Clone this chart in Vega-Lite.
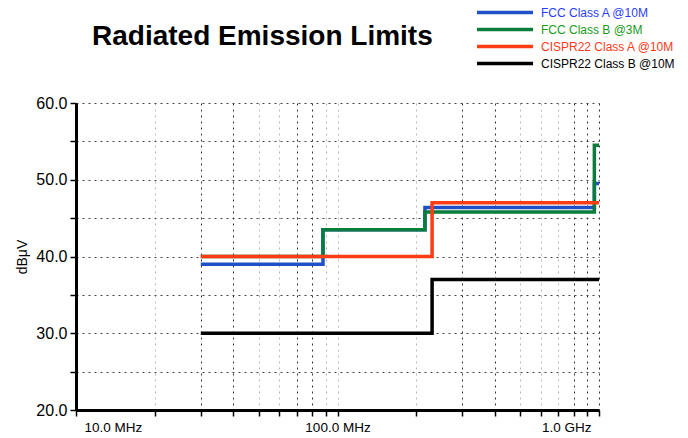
{
  "$schema": "https://vega.github.io/schema/vega-lite/v6.json",
  "autosize": "none",
  "width": 523,
  "height": 307,
  "padding": {"left": 76, "top": 103, "right": 89, "bottom": 28},
  "background": "white",
  "title": {
    "text": "Radiated Emission Limits",
    "anchor": "start",
    "frame": "group",
    "dx": 16,
    "offset": -69,
    "font": "Liberation Sans",
    "fontSize": 28,
    "fontWeight": "bold",
    "color": "black",
    "baseline": "alphabetic"
  },
  "data": {
    "values": [
      {"series": "FCC Class A @10M", "freq": 30, "level": 39},
      {"series": "FCC Class A @10M", "freq": 88, "level": 43.5},
      {"series": "FCC Class A @10M", "freq": 216, "level": 46.4},
      {"series": "FCC Class A @10M", "freq": 960, "level": 49.5},
      {"series": "FCC Class A @10M", "freq": 1000, "level": 49.5},
      {"series": "FCC Class B @3M", "freq": 30, "level": 40},
      {"series": "FCC Class B @3M", "freq": 88, "level": 43.5},
      {"series": "FCC Class B @3M", "freq": 216, "level": 45.8},
      {"series": "FCC Class B @3M", "freq": 960, "level": 54.5},
      {"series": "FCC Class B @3M", "freq": 1000, "level": 54.5},
      {"series": "CISPR22 Class A @10M", "freq": 30, "level": 40},
      {"series": "CISPR22 Class A @10M", "freq": 230, "level": 47},
      {"series": "CISPR22 Class A @10M", "freq": 1000, "level": 47},
      {"series": "CISPR22 Class B @10M", "freq": 30, "level": 30},
      {"series": "CISPR22 Class B @10M", "freq": 230, "level": 37},
      {"series": "CISPR22 Class B @10M", "freq": 1000, "level": 37}
    ]
  },
  "mark": {"type": "line", "interpolate": "step-after", "strokeWidth": 3.5},
  "encoding": {
    "x": {
      "field": "freq",
      "type": "quantitative",
      "scale": {"type": "log", "domain": [10, 1000], "nice": false},
      "axis": {
        "title": null,
        "values": [10, 20, 30, 40, 50, 60, 70, 80, 90, 100, 200, 300, 400, 500, 600, 700, 800, 900, 1000],
        "labelExpr": "datum.value == 10 ? '10.0 MHz' : datum.value == 100 ? '100.0 MHz' : datum.value == 1000 ? '1.0 GHz' : ''",
        "labelFlush": true,
        "labelFlushOffset": -8,
        "labelOverlap": false,
        "labelFont": "Liberation Sans",
        "labelFontSize": 13.5,
        "labelColor": "black",
        "labelPadding": 4,
        "domainColor": "black",
        "domainWidth": 3,
        "tickColor": "black",
        "tickWidth": 1.5,
        "tickSize": 6,
        "grid": true,
        "gridDash": [2, 4],
        "gridWidth": 1,
        "gridColor": {
          "condition": {"test": "indexof([30, 40, 70, 80, 300, 400, 800, 900, 1000], datum.value) >= 0", "value": "#333333"},
          "value": "#b8b8b8"
        }
      }
    },
    "y": {
      "field": "level",
      "type": "quantitative",
      "scale": {"domain": [20, 60], "nice": false, "zero": false},
      "axis": {
        "title": "dBμV",
        "titleFont": "Liberation Sans",
        "titleFontSize": 14,
        "titleFontWeight": "normal",
        "titleColor": "black",
        "titlePadding": 6,
        "values": [20, 25, 30, 35, 40, 45, 50, 55, 60],
        "labelExpr": "datum.value % 10 == 0 ? format(datum.value, '.1f') : ''",
        "labelFont": "Liberation Sans",
        "labelFontSize": 16,
        "labelColor": "black",
        "labelPadding": 3,
        "labelOverlap": false,
        "domainColor": "black",
        "domainWidth": 3,
        "tickColor": "black",
        "tickWidth": 1.5,
        "tickSize": 6,
        "grid": true,
        "gridDash": [2, 4],
        "gridWidth": 1,
        "gridColor": "#444444"
      }
    },
    "color": {
      "field": "series",
      "type": "nominal",
      "scale": {
        "domain": ["FCC Class A @10M", "FCC Class B @3M", "CISPR22 Class A @10M", "CISPR22 Class B @10M"],
        "range": ["#1f50c8", "#0a7d3c", "#ff3c14", "#000000"]
      },
      "legend": {
        "orient": "none",
        "legendX": 399,
        "legendY": -99,
        "title": null,
        "symbolType": "stroke",
        "symbolSize": 3136,
        "symbolStrokeWidth": 3.5,
        "clipHeight": 17,
        "rowPadding": 0,
        "labelOffset": 6,
        "labelFont": "Liberation Sans",
        "labelFontSize": 12,
        "labelColor": {"expr": "datum.value == 'FCC Class A @10M' ? '#2a3cff' : datum.value == 'FCC Class B @3M' ? '#1a9a1a' : datum.value == 'CISPR22 Class A @10M' ? '#ff3a1a' : '#000000'"}
      }
    }
  },
  "config": {"view": {"stroke": null}}
}
